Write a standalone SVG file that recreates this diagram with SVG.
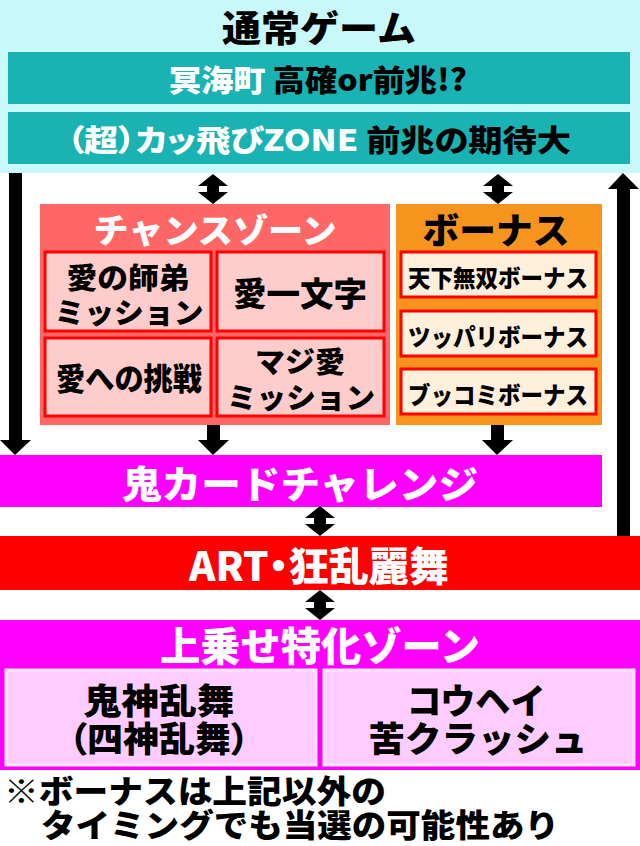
<svg xmlns="http://www.w3.org/2000/svg" width="640" height="846" viewBox="0 0 640 846">
<defs>
<style>
text{font-family:"Noto Sans CJK JP","Liberation Sans",sans-serif;font-weight:900;text-anchor:middle}
.palt{font-feature-settings:"palt"}
.w{fill:#fff}.k{fill:#000}
.teal{fill:#1AB3B3}
.pinkbox{fill:#FFCCCC;stroke:#FF0000;stroke-width:3}
.bonusbox{fill:#FFF0DC;stroke:#FF0000;stroke-width:3}
.upbox{fill:#FFCCFF;stroke:#FFE8FF;stroke-width:3}
.arr{fill:#000}
</style>
<path id="dbl" d="M0,0 L15,12 L6,12 L6,18 L15,18 L0,30 L-15,18 L-6,18 L-6,12 L-15,12 Z"/>
</defs>
<rect width="640" height="846" fill="#fff"/>

<g id="normal-game">
<rect x="0" y="0" width="640" height="173" fill="#C8F8FA"/>
<text x="319" y="42" font-size="36" class="k" textLength="194" lengthAdjust="spacingAndGlyphs">通常ゲーム</text>
</g>
<g id="meikaicho">
<rect class="teal" x="8" y="52" width="622" height="52"/>
<text x="318" y="91" font-size="30" textLength="298" lengthAdjust="spacingAndGlyphs"><tspan class="w">冥海町 </tspan><tspan class="k">高確or前兆!?</tspan></text>
</g>
<g id="kattobi-zone">
<rect class="teal" x="8" y="112" width="622" height="52"/>
<text x="319" y="151" font-size="30" class="palt" textLength="504" lengthAdjust="spacingAndGlyphs"><tspan class="w">（超）カッ飛びZONE </tspan><tspan class="k">前兆の期待大</tspan></text>
</g>

<g id="chance-zone">
<rect x="40" y="204" width="350" height="221" fill="#FF6666"/>
<text x="215" y="243" font-size="34" class="w" textLength="243" lengthAdjust="spacingAndGlyphs">チャンスゾーン</text>
</g>
<g id="ai-no-shitei">
<rect class="pinkbox" x="45" y="252" width="166" height="79"/>
<text x="128" y="289" font-size="29" class="k" textLength="123" lengthAdjust="spacingAndGlyphs">愛の師弟</text>
<text x="129" y="324" font-size="29" class="k" textLength="149" lengthAdjust="spacingAndGlyphs">ミッション</text>
</g>
<g id="ai-ichimonji">
<rect class="pinkbox" x="217" y="252" width="167" height="79"/>
<text x="300" y="306" font-size="33" class="k" textLength="134" lengthAdjust="spacingAndGlyphs">愛一文字</text>
</g>
<g id="ai-heno-chosen">
<rect class="pinkbox" x="45" y="338" width="166" height="78"/>
<text x="129" y="390" font-size="31" class="k" textLength="146" lengthAdjust="spacingAndGlyphs">愛への挑戦</text>
</g>
<g id="maji-ai">
<rect class="pinkbox" x="217" y="338" width="167" height="78"/>
<text x="300" y="373" font-size="29" class="k" textLength="90" lengthAdjust="spacingAndGlyphs">マジ愛</text>
<text x="301" y="409" font-size="29" class="k" textLength="148" lengthAdjust="spacingAndGlyphs">ミッション</text>
</g>

<g id="bonus">
<rect x="396" y="204" width="206" height="221" fill="#F7941D"/>
<text x="496" y="244" font-size="36" class="k" textLength="147" lengthAdjust="spacingAndGlyphs">ボーナス</text>
</g>
<g id="tenka-musou">
<rect class="bonusbox" x="401" y="252" width="195" height="45"/>
<text x="498" y="287" font-size="24" class="k" textLength="180" lengthAdjust="spacingAndGlyphs">天下無双ボーナス</text>
</g>
<g id="tsuppari">
<rect class="bonusbox" x="401" y="311" width="195" height="45"/>
<text x="498" y="346" font-size="24" class="k" textLength="180" lengthAdjust="spacingAndGlyphs">ツッパリボーナス</text>
</g>
<g id="bukkomi">
<rect class="bonusbox" x="401" y="369" width="195" height="45"/>
<text x="498" y="404" font-size="24" class="k" textLength="180" lengthAdjust="spacingAndGlyphs">ブッコミボーナス</text>
</g>

<g id="oni-card">
<rect x="0" y="455" width="602" height="52" fill="#FF00FF"/>
<text x="300" y="498" font-size="38" class="w" textLength="356" lengthAdjust="spacingAndGlyphs">鬼カードチャレンジ</text>
</g>
<g id="art">
<rect x="0" y="536" width="640" height="54" fill="#FF0000"/>
<text x="319" y="581" font-size="40" class="w palt" textLength="260" lengthAdjust="spacingAndGlyphs">ART・狂乱麗舞</text>
</g>
<g id="uwanose">
<rect x="0" y="620" width="640" height="150" fill="#FF00FF"/>
<text x="320" y="661" font-size="40" class="w" textLength="320" lengthAdjust="spacingAndGlyphs">上乗せ特化ゾーン</text>
</g>
<g id="kishin-ranbu">
<rect class="upbox" x="6" y="670" width="310" height="95"/>
<text x="159" y="714" font-size="35" class="k" textLength="151" lengthAdjust="spacingAndGlyphs">鬼神乱舞</text>
<text x="159" y="752" font-size="35" class="k palt" textLength="180" lengthAdjust="spacingAndGlyphs">（四神乱舞）</text>
</g>
<g id="kouhei">
<rect class="upbox" x="324" y="670" width="310" height="95"/>
<text x="476" y="714" font-size="35" class="k" textLength="139" lengthAdjust="spacingAndGlyphs">コウヘイ</text>
<text x="478" y="752" font-size="35" class="k" textLength="219" lengthAdjust="spacingAndGlyphs">苦クラッシュ</text>
</g>

<g id="note">
<text x="4" y="803" font-size="32" class="k" style="text-anchor:start" textLength="382" lengthAdjust="spacingAndGlyphs">※ボーナスは上記以外の</text>
<text x="41" y="837" font-size="32" class="k" style="text-anchor:start" textLength="518" lengthAdjust="spacingAndGlyphs">タイミングでも当選の可能性あり</text>
</g>

<g id="connectors" class="arr">
<path d="M9,173 L22,173 L22,440 L31,440 L15,455 L0,440 L9,440 Z"/>
<path d="M617,536 L630,536 L630,189 L639,189 L623,173 L608,189 L617,189 Z"/>
<use href="#dbl" x="213" y="174"/>
<use href="#dbl" x="498" y="174"/>
<path d="M207,425 L220,425 L220,440 L229,440 L213,455 L198,440 L207,440 Z"/>
<path d="M491,425 L504,425 L504,440 L513,440 L497,455 L482,440 L491,440 Z"/>
<use href="#dbl" x="320" y="506"/>
<use href="#dbl" x="320" y="590"/>
</g>
</svg>
